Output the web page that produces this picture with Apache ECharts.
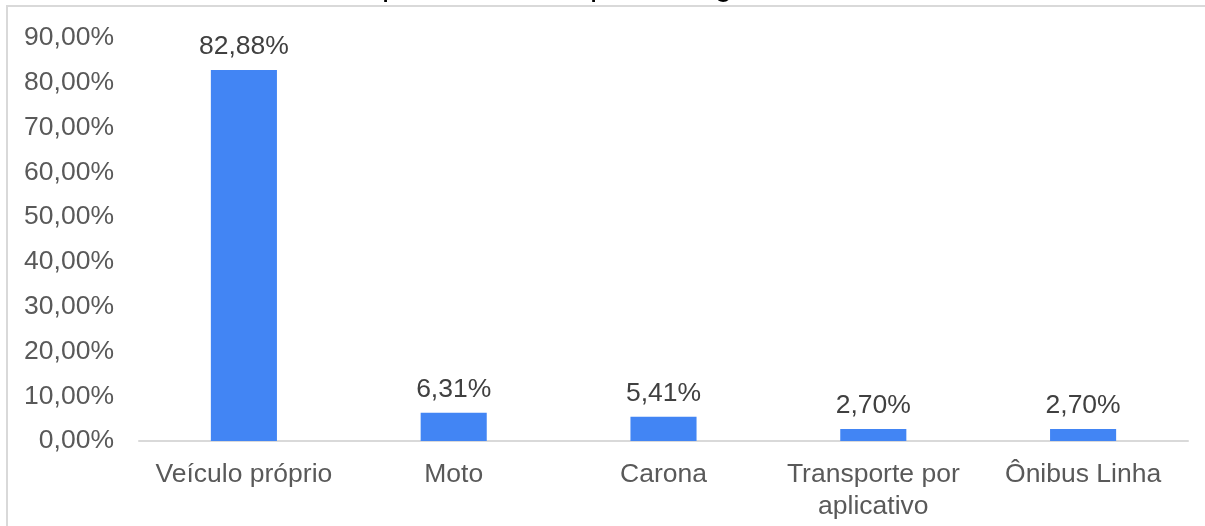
<!DOCTYPE html>
<html>
<head>
<meta charset="utf-8">
<script src="https://cdn.jsdelivr.net/npm/echarts@6/dist/echarts.min.js"></script>
<style>
  html, body { margin: 0; padding: 0; background: #fff; }
  #chart { width: 1205px; height: 526px; }
</style>
</head>
<body>
<div id="chart"></div>
<script>
// dados do gráfico
const titulo = 'Meio de transporte utilizado para chegar ao trabalho'
const categorias = ['Veículo próprio', 'Moto', 'Carona', 'Transporte por\naplicativo', 'Ônibus Linha']
const percentuais = [82.88, 6.31, 5.41, 2.70, 2.70]
const eixoY = { min: 0, max: 90, interval: 10 }

const fonte = '"Liberation Sans", Arial, sans-serif'
const fmt = v => Number(v).toFixed(2).replace('.', ',') + '%'

const chart = echarts.init(document.getElementById('chart'))
chart.setOption({
  animation: false,
  backgroundColor: '#ffffff',
  textStyle: { fontFamily: fonte },
  title: {
    text: titulo,
    left: 183,
    top: -35,
    textStyle: { fontFamily: fonte, fontSize: 32, fontWeight: 'normal', color: '#000000' }
  },
  graphic: [
    {
      // moldura da área do gráfico
      type: 'rect',
      shape: { x: 7, y: 6, width: 1220, height: 540 },
      style: { fill: 'none', stroke: '#d9d9d9', lineWidth: 2 },
      silent: true
    }
  ],
  grid: { left: 139, right: 17, top: 38, bottom: 85, containLabel: false },
  xAxis: {
    type: 'category',
    data: categorias,
    axisLine: { show: true, lineStyle: { color: '#d9d9d9', width: 2 } },
    axisTick: { show: false },
    axisLabel: {
      interval: 0,
      margin: 18,
      fontSize: 26.5,
      lineHeight: 32,
      color: '#595959',
      fontFamily: fonte
    }
  },
  yAxis: {
    type: 'value',
    min: eixoY.min,
    max: eixoY.max,
    interval: eixoY.interval,
    splitLine: { show: false },
    axisLine: { show: false },
    axisTick: { show: false },
    axisLabel: {
      margin: 25,
      fontSize: 26.5,
      color: '#595959',
      fontFamily: fonte,
      formatter: fmt
    }
  },
  series: [
    {
      type: 'bar',
      data: percentuais,
      barWidth: '31.5%',
      itemStyle: { color: '#4285f4' },
      label: {
        show: true,
        position: 'top',
        distance: 10,
        fontSize: 26.5,
        color: '#404040',
        fontFamily: fonte,
        formatter: p => fmt(p.value)
      }
    }
  ]
})
</script>
</body>
</html>
